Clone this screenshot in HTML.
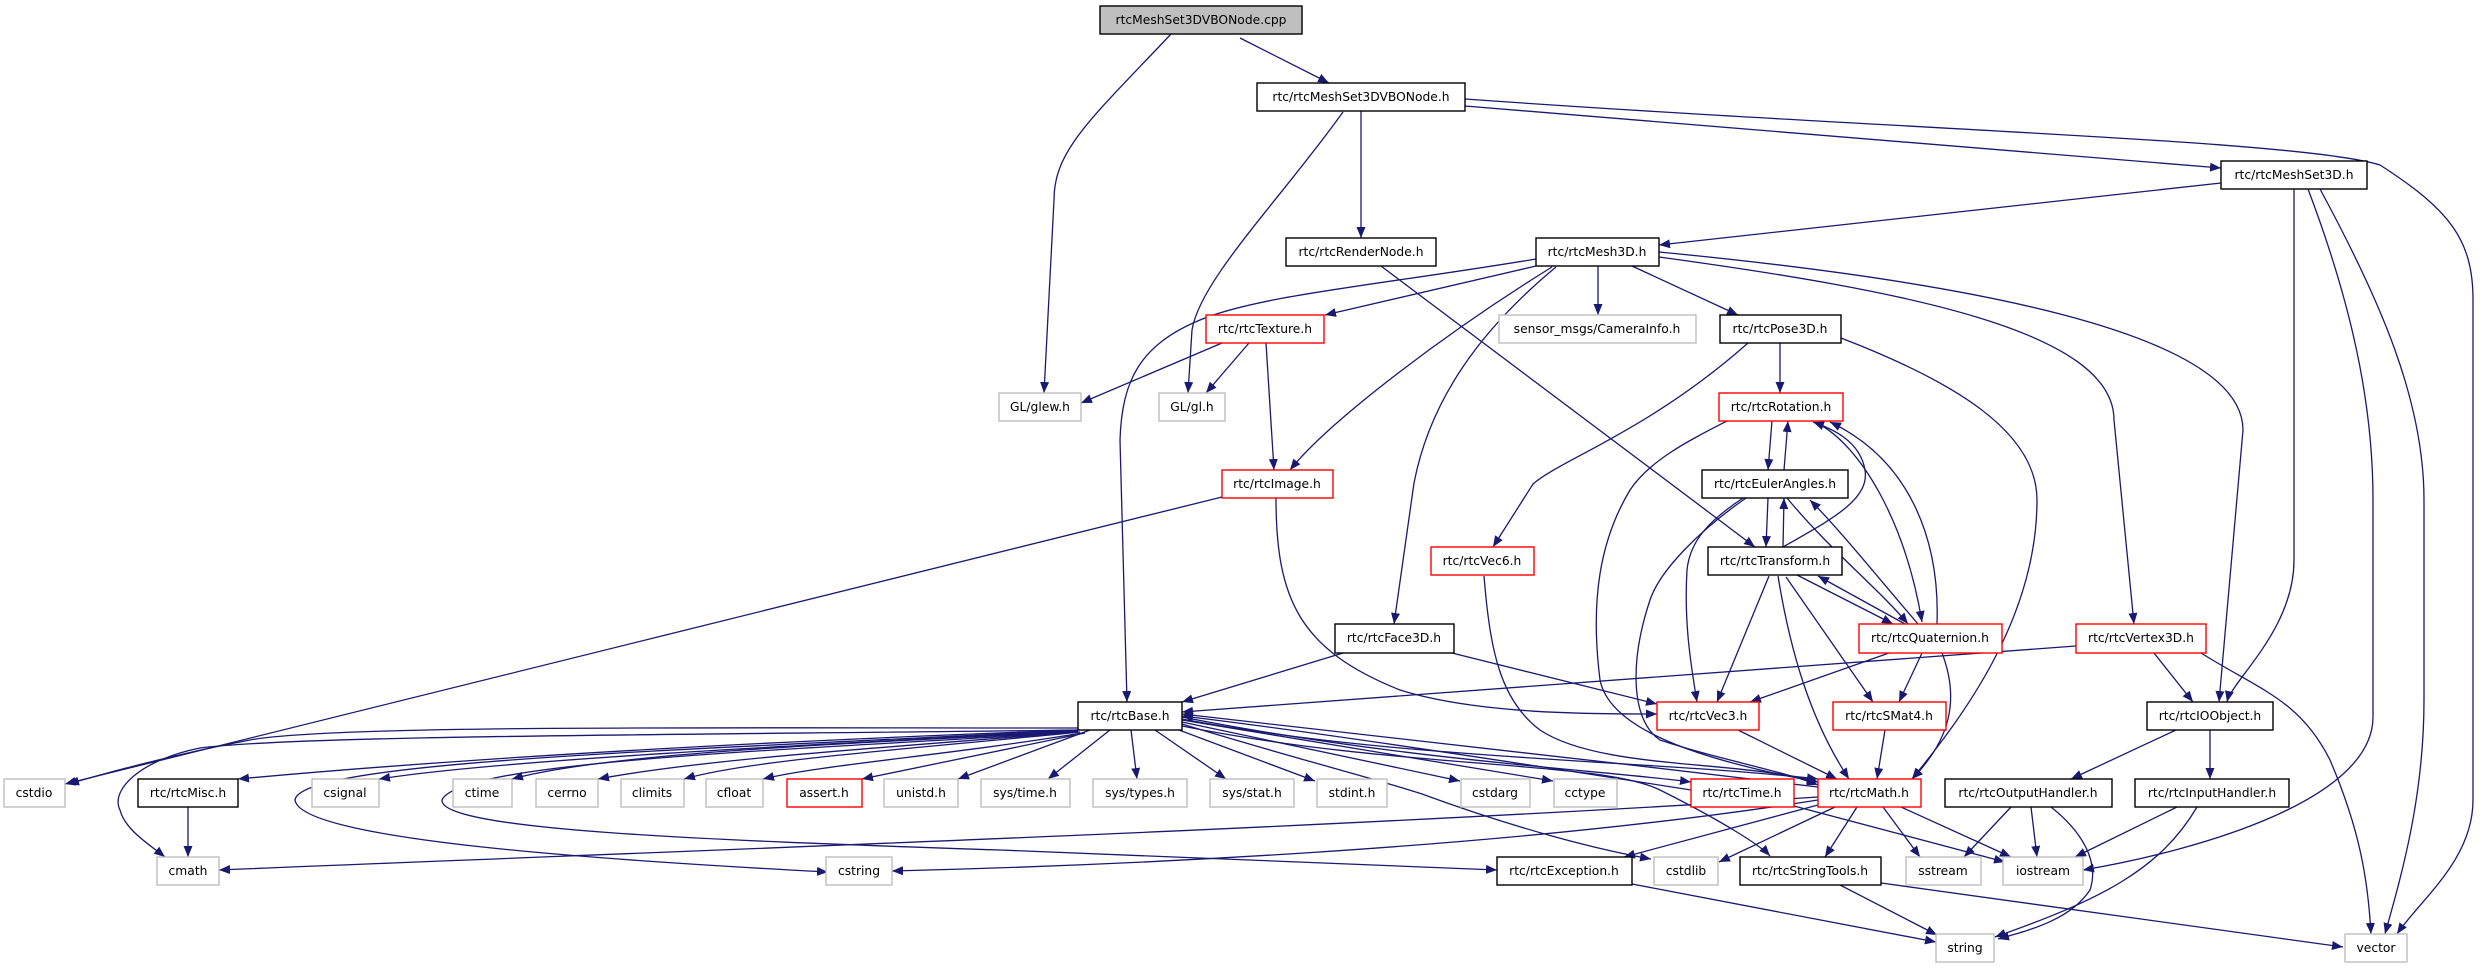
<!DOCTYPE html>
<html><head><meta charset="utf-8"><style>
html,body{margin:0;padding:0;background:#fff;}
svg{display:block;}
text{font-family:"DejaVu Sans","Liberation Sans",sans-serif;font-size:12.3px;fill:#000;text-anchor:middle;dominant-baseline:central;}
.e{fill:none;stroke:#191970;stroke-width:1.3;marker-end:url(#a);}
.n{fill:#fff;stroke:#000;stroke-width:1.4;}
.g{fill:#fff;stroke:#bfbfbf;stroke-width:1.4;}
.r{fill:#fff;stroke:#ff0000;stroke-width:1.4;}
</style></head><body>
<svg width="2483" height="968" viewBox="0 0 2483 968" xmlns="http://www.w3.org/2000/svg">
<defs><marker id="a" markerUnits="userSpaceOnUse" markerWidth="12" markerHeight="10" refX="11" refY="4.5" orient="auto"><path d="M0,0 L11,4.5 L0,9 z" fill="#191970"/></marker></defs>

<!-- edges -->
<path class="e" d="M1171,34 C1090,120 1054,150 1054,200 L1044,393"/>
<path class="e" d="M1240,38 L1329,83"/>
<path class="e" d="M1343,112 C1280,200 1200,280 1192,330 L1188,393"/>
<path class="e" d="M1361,111 L1361,238"/>
<path class="e" d="M1465,106 L2221,168"/>
<path class="e" d="M1465,99 C1900,130 2300,140 2380,165 C2450,210 2473,240 2473,300 L2473,800 C2473,860 2420,900 2397,934"/>
<path class="e" d="M2221,183 L1659,245"/>
<path class="e" d="M2294,189 L2294,560 C2294,630 2232,680 2227,702"/>
<path class="e" d="M2308,189 C2350,300 2373,400 2373,500 L2373,717 C2373,800 2200,850 2083,870"/>
<path class="e" d="M2320,189 C2380,300 2424,400 2424,500 L2424,700 C2424,800 2400,880 2385,934"/>
<path class="e" d="M1381,266 L1755,547"/>
<path class="e" d="M1536,259 C1380,285 1260,295 1200,320 C1140,345 1122,380 1120,440 L1127,702"/>
<path class="e" d="M1536,266 L1325,315"/>
<path class="e" d="M1552,267 C1450,330 1330,420 1290,470"/>
<path class="e" d="M1556,267 C1480,330 1430,400 1414,483 L1394,624"/>
<path class="e" d="M1598,266 L1598,315"/>
<path class="e" d="M1632,266 L1738,315"/>
<path class="e" d="M1659,257 C1900,290 2114,330 2114,420 L2134,624"/>
<path class="e" d="M1659,252 C1950,280 2243,330 2243,430 L2219,702"/>
<path class="e" d="M1222,343 L1081,403"/>
<path class="e" d="M1249,343 L1206,393"/>
<path class="e" d="M1266,343 L1274,470"/>
<path class="e" d="M1222,497 L65,784"/>
<path class="e" d="M1276,498 C1276,600 1300,650 1400,690 C1480,715 1600,714 1657,714"/>
<path class="e" d="M1780,343 L1780,393"/>
<path class="e" d="M1748,343 C1650,430 1560,460 1533,484 L1493,547"/>
<path class="e" d="M1841,338 C1950,380 2037,430 2037,500 C2037,620 1960,720 1912,779"/>
<!-- cluster -->
<path class="e" d="M1772,421 L1768,470"/>
<path class="e" d="M1784,470 L1788,421"/>
<path class="e" d="M1768,498 L1766,547"/>
<path class="e" d="M1783,547 L1784,498"/>
<path class="e" d="M1787,498 C1830,550 1880,590 1908,624"/>
<path class="e" d="M1918,624 C1880,580 1840,530 1810,500"/>
<path class="e" d="M1797,575 L1893,624"/>
<path class="e" d="M1905,624 L1818,576"/>
<path class="e" d="M1783,547 C1830,520 1870,500 1865,470 C1860,440 1830,428 1813,422"/>
<path class="e" d="M1817,423 C1860,445 1905,520 1922,622"/>
<path class="e" d="M1937,624 C1940,540 1910,460 1830,422"/>
<path class="e" d="M1727,421 C1690,440 1650,460 1630,490 C1600,540 1590,600 1600,680 C1610,730 1700,760 1818,782"/>
<path class="e" d="M1746,498 C1700,530 1660,570 1650,600 C1630,660 1630,720 1660,740 C1720,760 1780,770 1818,785"/>
<path class="e" d="M1743,498 C1710,520 1690,540 1687,570 C1684,620 1690,660 1697,702"/>
<path class="e" d="M1769,576 L1717,702"/>
<path class="e" d="M1778,576 C1790,650 1810,720 1849,779"/>
<path class="e" d="M1786,577 L1873,702"/>
<path class="e" d="M1889,653 L1750,702"/>
<path class="e" d="M1922,653 L1899,702"/>
<path class="e" d="M1942,653 C1960,700 1950,740 1912,779"/>
<path class="e" d="M1484,576 C1490,650 1500,700 1540,730 C1600,770 1740,760 1818,782"/>
<!-- middle -->
<path class="e" d="M1343,653 L1182,702"/>
<path class="e" d="M1452,653 L1657,704"/>
<path class="e" d="M2076,646 L1182,712"/>
<path class="e" d="M2154,653 L2193,702"/>
<path class="e" d="M2201,653 C2260,690 2300,700 2330,760 C2360,830 2368,880 2371,934"/>
<path class="e" d="M1738,730 L1837,779"/>
<path class="e" d="M1885,730 L1877,779"/>
<path class="e" d="M2176,730 L2071,779"/>
<path class="e" d="M2210,730 L2210,779"/>
<path class="e" d="M2011,807 L1964,857"/>
<path class="e" d="M2031,807 L2037,857"/>
<path class="e" d="M2051,807 C2080,830 2100,860 2090,890 C2070,920 2030,930 1998,939"/>
<path class="e" d="M2177,807 L2075,857"/>
<path class="e" d="M2197,807 C2160,870 2100,900 1995,937"/>
<path class="e" d="M1632,884 L1936,942"/>
<path class="e" d="M1840,885 L1937,935"/>
<path class="e" d="M1881,883 L2343,947"/>
<path class="e" d="M1794,806 L2005,862"/>
<path class="e" d="M1901,807 L2011,857"/>
<path class="e" d="M1883,807 L1920,857"/>
<path class="e" d="M1857,807 L1825,857"/>
<path class="e" d="M1835,807 L1719,862"/>
<path class="e" d="M1818,805 L1624,857"/>
<path class="e" d="M1818,800 C1500,850 1100,866 892,871"/>
<path class="e" d="M1818,797 C1300,830 700,850 219,870"/>
<!-- rtcBase fan -->
<path class="e" d="M1078,728 C700,728 330,725 250,740 C170,755 100,775 68,784"/>
<path class="e" d="M1078,730 C700,735 300,735 200,748 C140,760 110,790 120,810 C125,830 150,845 165,857"/>
<path class="e" d="M1078,730 C800,740 500,755 238,779"/>
<path class="e" d="M1078,731 C800,745 500,760 379,779"/>
<path class="e" d="M1078,732 C800,745 600,755 512,779"/>
<path class="e" d="M1079,732 C850,750 700,760 598,779"/>
<path class="e" d="M1080,732 C900,750 750,760 684,779"/>
<path class="e" d="M1082,733 C950,755 820,765 763,779"/>
<path class="e" d="M1085,733 L862,779"/>
<path class="e" d="M1090,730 L958,779"/>
<path class="e" d="M1110,730 L1048,779"/>
<path class="e" d="M1131,730 L1137,779"/>
<path class="e" d="M1155,730 L1226,779"/>
<path class="e" d="M1179,730 L1315,781"/>
<path class="e" d="M1182,722 L1460,781"/>
<path class="e" d="M1182,720 L1553,781"/>
<path class="e" d="M1182,717 C1400,760 1600,770 1691,782"/>
<path class="e" d="M1182,719 C1400,760 1650,760 1818,779"/>
<path class="e" d="M1691,790 C1500,760 1300,730 1182,716"/>
<path class="e" d="M1818,787 C1600,760 1350,735 1182,714"/>
<path class="e" d="M1078,730 C700,750 300,760 295,800 C300,840 600,860 828,872"/>
<path class="e" d="M1078,732 C800,750 460,760 442,800 C440,830 700,840 1000,850 C1200,858 1400,865 1497,870"/>
<path class="e" d="M1182,724 C1300,760 1380,780 1422,794 C1520,830 1600,850 1651,859"/>
<path class="e" d="M1182,726 C1400,770 1600,760 1660,790 C1720,820 1760,845 1770,856"/>
<path class="e" d="M188,807 L188,857"/>

<!-- nodes -->
<rect x="1100" y="6" width="202" height="28" fill="#bfbfbf" stroke="#000" stroke-width="1.4"/><text x="1201" y="20">rtcMeshSet3DVBONode.cpp</text>
<rect class="n" x="1257" y="83" width="208" height="28"/><text x="1361" y="97">rtc/rtcMeshSet3DVBONode.h</text>
<rect class="n" x="2221" y="161" width="146" height="28"/><text x="2294" y="175">rtc/rtcMeshSet3D.h</text>
<rect class="n" x="1286" y="238" width="150" height="28"/><text x="1361" y="252">rtc/rtcRenderNode.h</text>
<rect class="n" x="1536" y="238" width="123" height="28"/><text x="1597" y="252">rtc/rtcMesh3D.h</text>
<rect class="r" x="1206" y="315" width="118" height="28"/><text x="1265" y="329">rtc/rtcTexture.h</text>
<rect class="g" x="1499" y="315" width="197" height="28"/><text x="1597" y="329">sensor_msgs/CameraInfo.h</text>
<rect class="n" x="1720" y="315" width="121" height="28"/><text x="1780" y="329">rtc/rtcPose3D.h</text>
<rect class="g" x="999" y="393" width="82" height="28"/><text x="1040" y="407">GL/glew.h</text>
<rect class="g" x="1159" y="393" width="66" height="28"/><text x="1192" y="407">GL/gl.h</text>
<rect class="r" x="1719" y="393" width="124" height="28"/><text x="1781" y="407">rtc/rtcRotation.h</text>
<rect class="r" x="1222" y="470" width="111" height="28"/><text x="1277" y="484">rtc/rtcImage.h</text>
<rect class="n" x="1702" y="470" width="146" height="28"/><text x="1775" y="484">rtc/rtcEulerAngles.h</text>
<rect class="r" x="1431" y="547" width="103" height="28"/><text x="1482" y="561">rtc/rtcVec6.h</text>
<rect class="n" x="1708" y="547" width="134" height="28"/><text x="1775" y="561">rtc/rtcTransform.h</text>
<rect class="n" x="1335" y="624" width="119" height="29"/><text x="1394" y="638">rtc/rtcFace3D.h</text>
<rect class="r" x="1859" y="624" width="143" height="29"/><text x="1930" y="638">rtc/rtcQuaternion.h</text>
<rect class="r" x="2076" y="624" width="130" height="29"/><text x="2141" y="638">rtc/rtcVertex3D.h</text>
<rect class="n" x="1078" y="702" width="104" height="28"/><text x="1130" y="716">rtc/rtcBase.h</text>
<rect class="r" x="1657" y="702" width="102" height="28"/><text x="1708" y="716">rtc/rtcVec3.h</text>
<rect class="r" x="1833" y="702" width="113" height="28"/><text x="1889" y="716">rtc/rtcSMat4.h</text>
<rect class="n" x="2147" y="702" width="126" height="28"/><text x="2210" y="716">rtc/rtcIOObject.h</text>
<rect class="g" x="4" y="779" width="61" height="28"/><text x="34" y="793">cstdio</text>
<rect class="n" x="138" y="779" width="100" height="28"/><text x="188" y="793">rtc/rtcMisc.h</text>
<rect class="g" x="312" y="779" width="67" height="28"/><text x="345" y="793">csignal</text>
<rect class="g" x="453" y="779" width="59" height="28"/><text x="482" y="793">ctime</text>
<rect class="g" x="536" y="779" width="62" height="28"/><text x="567" y="793">cerrno</text>
<rect class="g" x="621" y="779" width="63" height="28"/><text x="652" y="793">climits</text>
<rect class="g" x="706" y="779" width="57" height="28"/><text x="734" y="793">cfloat</text>
<rect class="r" x="787" y="779" width="75" height="28"/><text x="824" y="793">assert.h</text>
<rect class="g" x="884" y="779" width="74" height="28"/><text x="921" y="793">unistd.h</text>
<rect class="g" x="981" y="779" width="89" height="28"/><text x="1025" y="793">sys/time.h</text>
<rect class="g" x="1093" y="779" width="94" height="28"/><text x="1140" y="793">sys/types.h</text>
<rect class="g" x="1210" y="779" width="84" height="28"/><text x="1252" y="793">sys/stat.h</text>
<rect class="g" x="1317" y="779" width="70" height="28"/><text x="1352" y="793">stdint.h</text>
<rect class="g" x="1461" y="779" width="69" height="28"/><text x="1495" y="793">cstdarg</text>
<rect class="g" x="1554" y="779" width="63" height="28"/><text x="1585" y="793">cctype</text>
<rect class="r" x="1691" y="779" width="103" height="28"/><text x="1742" y="793">rtc/rtcTime.h</text>
<rect class="r" x="1818" y="779" width="103" height="28"/><text x="1869" y="793">rtc/rtcMath.h</text>
<rect class="n" x="1945" y="779" width="167" height="28"/><text x="2028" y="793">rtc/rtcOutputHandler.h</text>
<rect class="n" x="2135" y="779" width="154" height="28"/><text x="2212" y="793">rtc/rtcInputHandler.h</text>
<rect class="g" x="157" y="857" width="62" height="28"/><text x="188" y="871">cmath</text>
<rect class="g" x="826" y="857" width="66" height="28"/><text x="859" y="871">cstring</text>
<rect class="n" x="1497" y="857" width="135" height="28"/><text x="1564" y="871">rtc/rtcException.h</text>
<rect class="g" x="1654" y="857" width="64" height="28"/><text x="1686" y="871">cstdlib</text>
<rect class="n" x="1740" y="857" width="141" height="28"/><text x="1810" y="871">rtc/rtcStringTools.h</text>
<rect class="g" x="1906" y="857" width="75" height="28"/><text x="1943" y="871">sstream</text>
<rect class="g" x="2003" y="857" width="80" height="28"/><text x="2043" y="871">iostream</text>
<rect class="g" x="1936" y="934" width="58" height="28"/><text x="1965" y="948">string</text>
<rect class="g" x="2345" y="934" width="62" height="28"/><text x="2376" y="948">vector</text>
</svg>
</body></html>
